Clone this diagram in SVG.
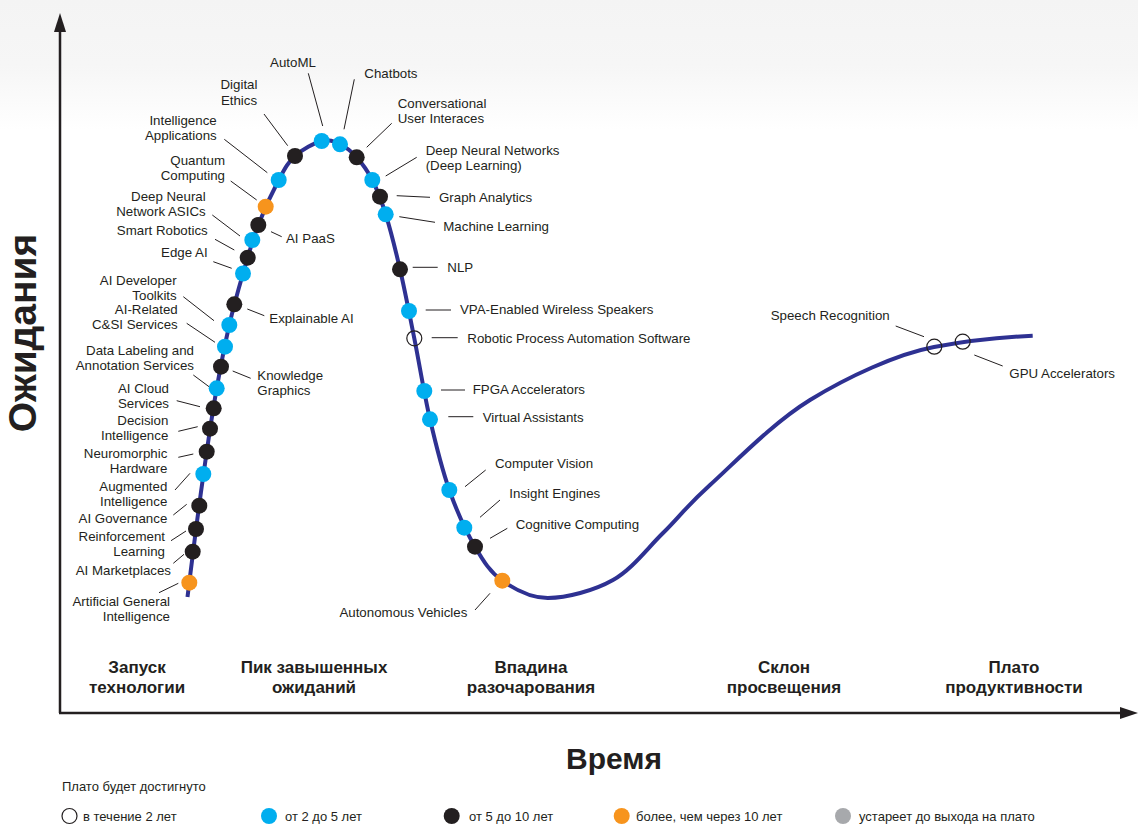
<svg xmlns="http://www.w3.org/2000/svg" width="1138" height="826" viewBox="0 0 1138 826">
<defs>
<linearGradient id="bg" x1="0" y1="0" x2="0" y2="1">
<stop offset="0" stop-color="#f4f4f4"/>
<stop offset="0.5" stop-color="#f6f6f6"/>
<stop offset="1" stop-color="#ffffff"/>
</linearGradient>
<style>
text{font-family:"Liberation Sans",Arial,sans-serif;fill:#231f20}
.lb{font-size:13.3px}
.ph{font-size:17px;font-weight:bold;text-anchor:middle}
.lg{font-size:13px}
.e{text-anchor:end}
.m{text-anchor:middle}
.b{fill:#00aeef}
.k{fill:#231f20}
.o{fill:#f7941d}
.g{fill:#a7a9ac}
.w{fill:none;stroke:#231f20;stroke-width:1.2}
#leaders line{stroke:#231f20;stroke-width:1}
.ax{stroke:#231f20;stroke-width:2.5;fill:none}
</style>
</defs>
<rect width="1138" height="826" fill="#ffffff"/>
<rect width="1138" height="130" fill="url(#bg)"/>
<g id="axes">
<line class="ax" x1="60" y1="713" x2="60" y2="28"/>
<polygon points="60,13 54,32 66,32" fill="#231f20"/>
<line class="ax" x1="59" y1="713" x2="1122" y2="713"/>
<polygon points="1138,713 1120,707 1120,719" fill="#231f20"/>
<text x="36" y="333" transform="rotate(-90 36 333)" style="font-size:39px;font-weight:bold;text-anchor:middle">Ожидания</text>
<text x="614" y="769" style="font-size:30px;font-weight:bold;text-anchor:middle">Время</text>
</g>
<g id="phases">
<text class="ph" x="137" y="673">Запуск<tspan x="137" dy="20">технологии</tspan></text>
<text class="ph" x="314" y="673">Пик завышенных<tspan x="314" dy="20">ожиданий</tspan></text>
<text class="ph" x="531" y="673">Впадина<tspan x="531" dy="20">разочарования</tspan></text>
<text class="ph" x="784" y="673">Склон<tspan x="784" dy="20">просвещения</tspan></text>
<text class="ph" x="1014" y="673">Плато<tspan x="1014" dy="20">продуктивности</tspan></text>
</g>
<g id="curve">
<path d="M187.5,597 C190.33,574.33 192.8,553.22 196,529 C199.2,504.78 203.25,475.15 206.7,451.7 C210.15,428.25 212.93,409.42 216.7,388.3 C220.47,367.18 224.92,344.13 229.3,325 C233.68,305.87 238.17,290.17 243,273.5 C247.83,256.83 252.35,240.58 258.3,225 C264.25,209.42 272.58,191.5 278.7,180 C284.82,168.5 287.83,162.5 295,156 C302.17,149.5 314.2,142.950 321.7,141 C329.2,139.05 334.17,141.58 340,144.3 C345.83,147.02 351.32,151.35 356.7,157.3 C362.08,163.25 367.47,170.5 372.3,180 C377.13,189.5 381.08,199.42 385.7,214.3 C390.32,229.18 395.23,248.63 400,269.3 C404.77,289.97 409.3,313.3 414.3,338.3 C419.3,363.3 424.17,394.02 430,419.3 C435.83,444.58 441.8,468.77 449.3,490 C456.8,511.23 466.17,531.58 475,546.7 C483.83,561.82 490.13,572.15 502.3,580.7 C514.47,589.25 529.55,598.12 548,598 C566.45,597.88 593.83,590.83 613,580 C632.17,569.17 646.83,548.83 663,533 C679.17,517.17 685.5,507.17 710,485 C734.5,462.83 772.67,423 810,400 C847.33,377 897,354 934,347 C971,340 999.7,337.2 1032.7,335.7" fill="none" stroke="#2e3192" stroke-width="4" stroke-linecap="butt"/>
</g>
<g id="leaders">
<line x1="308.3" y1="73.3" x2="322.7" y2="126"/>
<line x1="354.3" y1="79.3" x2="344" y2="129.3"/>
<line x1="264" y1="114" x2="287.7" y2="145.7"/>
<line x1="224.3" y1="139.3" x2="267.3" y2="172.7"/>
<line x1="230.7" y1="181" x2="256.7" y2="200"/>
<line x1="212.3" y1="215" x2="240" y2="236"/>
<line x1="215" y1="239.3" x2="234.3" y2="250"/>
<line x1="213.3" y1="261.7" x2="231.7" y2="268.3"/>
<line x1="271" y1="231.7" x2="281.7" y2="236.7"/>
<line x1="183.3" y1="296.7" x2="214" y2="320.7"/>
<line x1="186.7" y1="323.3" x2="215" y2="342.3"/>
<line x1="247.3" y1="309" x2="264.3" y2="315.7"/>
<line x1="193.3" y1="375" x2="209" y2="386.7"/>
<line x1="232.7" y1="371" x2="250.7" y2="378.3"/>
<line x1="176.7" y1="400.7" x2="200" y2="406.7"/>
<line x1="178.3" y1="431.3" x2="197.7" y2="426.7"/>
<line x1="178.3" y1="457.3" x2="193.3" y2="454"/>
<line x1="175" y1="490" x2="190" y2="473.3"/>
<line x1="173.3" y1="515" x2="186.7" y2="504.3"/>
<line x1="171" y1="540.7" x2="186" y2="531"/>
<line x1="173.3" y1="563.3" x2="184" y2="554.3"/>
<line x1="159" y1="592.7" x2="178.3" y2="583.3"/>
<line x1="391.7" y1="123.3" x2="366.7" y2="147.3"/>
<line x1="416.7" y1="157.3" x2="385.7" y2="176"/>
<line x1="396.7" y1="195.7" x2="430" y2="197.3"/>
<line x1="399.3" y1="216.7" x2="435" y2="222.3"/>
<line x1="412.7" y1="267.3" x2="437.7" y2="267.3"/>
<line x1="425.7" y1="310" x2="451" y2="310"/>
<line x1="431.7" y1="337.7" x2="457.7" y2="337.7"/>
<line x1="441" y1="390" x2="465" y2="390"/>
<line x1="448.3" y1="416.7" x2="473.3" y2="416.7"/>
<line x1="485.7" y1="470" x2="465" y2="486.7"/>
<line x1="500" y1="500" x2="480" y2="517.3"/>
<line x1="507.3" y1="528.3" x2="490" y2="538.3"/>
<line x1="475" y1="610" x2="490" y2="593.3"/>
<line x1="895.7" y1="326" x2="924" y2="336.7"/>
<line x1="974.3" y1="355" x2="1002.7" y2="366"/>
</g>
<g id="n-agi"><circle class="o" cx="189.3" cy="582.7" r="8"/><text class="lb e" x="170" y="606">Artificial General<tspan x="170" dy="15">Intelligence</tspan></text></g>
<g id="n-aimkt"><circle class="k" cx="192.7" cy="551.7" r="8"/><text class="lb e" x="171" y="575">AI Marketplaces</text></g>
<g id="n-rl"><circle class="k" cx="196" cy="529" r="8"/><text class="lb e" x="165" y="540.7">Reinforcement<tspan x="165" dy="15">Learning</tspan></text></g>
<g id="n-aigov"><circle class="k" cx="199.3" cy="505.7" r="8"/><text class="lb e" x="167.3" y="523.3">AI Governance</text></g>
<g id="n-augint"><circle class="b" cx="203.3" cy="474" r="8"/><text class="lb e" x="167.3" y="490.7">Augmented<tspan x="167.3" dy="15">Intelligence</tspan></text></g>
<g id="n-neuro"><circle class="k" cx="206.7" cy="451.7" r="8"/><text class="lb e" x="167.3" y="458.3">Neuromorphic<tspan x="167.3" dy="15">Hardware</tspan></text></g>
<g id="n-decint"><circle class="k" cx="210" cy="428.7" r="8"/><text class="lb e" x="168.3" y="425">Decision<tspan x="168.3" dy="15">Intelligence</tspan></text></g>
<g id="n-aicloud"><circle class="k" cx="213.7" cy="408.3" r="8"/><text class="lb e" x="169" y="392.7">AI Cloud<tspan x="169" dy="15">Services</tspan></text></g>
<g id="n-datalab"><circle class="b" cx="216.7" cy="388.3" r="8"/><text class="lb e" x="194" y="355">Data Labeling and<tspan x="194" dy="15">Annotation Services</tspan></text></g>
<g id="n-kg"><circle class="k" cx="221" cy="366.7" r="8"/><text class="lb" x="257.3" y="380">Knowledge<tspan x="257.3" dy="15">Graphics</tspan></text></g>
<g id="n-csi"><circle class="b" cx="225" cy="346.7" r="8"/><text class="lb e" x="177.7" y="314.3">AI-Related<tspan x="177.7" dy="15">C&amp;SI Services</tspan></text></g>
<g id="n-aidev"><circle class="b" cx="229.3" cy="325" r="8"/><text class="lb e" x="176.7" y="285">AI Developer<tspan x="176.7" dy="15">Toolkits</tspan></text></g>
<g id="n-xai"><circle class="k" cx="234.3" cy="304.3" r="8"/><text class="lb" x="269.3" y="323.3">Explainable AI</text></g>
<g id="n-edge"><circle class="b" cx="243" cy="273.5" r="8"/><text class="lb e" x="207.7" y="256.7">Edge AI</text></g>
<g id="n-robotics"><circle class="k" cx="247.7" cy="257.7" r="8"/><text class="lb e" x="207.7" y="235">Smart Robotics</text></g>
<g id="n-asics"><circle class="b" cx="252.3" cy="240" r="8"/><text class="lb e" x="205.7" y="201">Deep Neural<tspan x="205.7" dy="15">Network ASICs</tspan></text></g>
<g id="n-paas"><circle class="k" cx="258.3" cy="225" r="8"/><text class="lb" x="286" y="242.7">AI PaaS</text></g>
<g id="n-quantum"><circle class="o" cx="265.7" cy="206.7" r="8"/><text class="lb e" x="225" y="165">Quantum<tspan x="225" dy="15">Computing</tspan></text></g>
<g id="n-intapps"><circle class="b" cx="278.7" cy="180" r="8"/><text class="lb e" x="216.7" y="125">Intelligence<tspan x="216.7" dy="15">Applications</tspan></text></g>
<g id="n-ethics"><circle class="k" cx="295" cy="156" r="8"/><text class="lb m" x="239" y="89.3">Digital<tspan x="239" dy="15.3">Ethics</tspan></text></g>
<g id="n-automl"><circle class="b" cx="321.7" cy="141" r="8"/><text class="lb m" x="293" y="67">AutoML</text></g>
<g id="n-chatbots"><circle class="b" cx="340" cy="144.3" r="8"/><text class="lb" x="364.3" y="78.3">Chatbots</text></g>
<g id="n-cui"><circle class="k" cx="356.7" cy="157.3" r="8"/><text class="lb" x="397.7" y="107.7">Conversational<tspan x="397.7" dy="15">User Interaces</tspan></text></g>
<g id="n-dnn"><circle class="b" cx="372.3" cy="180" r="8"/><text class="lb" x="425.7" y="155">Deep Neural Networks<tspan x="425.7" dy="15">(Deep Learning)</tspan></text></g>
<g id="n-graph"><circle class="k" cx="380" cy="196.7" r="8"/><text class="lb" x="439" y="202.3">Graph Analytics</text></g>
<g id="n-ml"><circle class="b" cx="385.7" cy="214.3" r="8"/><text class="lb" x="443.3" y="230.7">Machine Learning</text></g>
<g id="n-nlp"><circle class="k" cx="400" cy="269.3" r="8"/><text class="lb" x="447.3" y="272.3">NLP</text></g>
<g id="n-vpa"><circle class="b" cx="409" cy="311" r="8"/><text class="lb" x="460" y="314.3">VPA-Enabled Wireless Speakers</text></g>
<g id="n-rpa"><circle class="w" cx="414.3" cy="338.3" r="7.5"/><text class="lb" x="467.3" y="342.7">Robotic Process Automation Software</text></g>
<g id="n-fpga"><circle class="b" cx="424.3" cy="391" r="8"/><text class="lb" x="472.7" y="394.3">FPGA Accelerators</text></g>
<g id="n-va"><circle class="b" cx="430" cy="419.3" r="8"/><text class="lb" x="482.7" y="421.7">Virtual Assistants</text></g>
<g id="n-cv"><circle class="b" cx="449.3" cy="490" r="8"/><text class="lb" x="495" y="467.7">Computer Vision</text></g>
<g id="n-insight"><circle class="b" cx="464.3" cy="527.7" r="8"/><text class="lb" x="509.3" y="498.3">Insight Engines</text></g>
<g id="n-cogn"><circle class="k" cx="475" cy="546.7" r="8"/><text class="lb" x="515.7" y="529.3">Cognitive Computing</text></g>
<g id="n-av"><circle class="o" cx="502.3" cy="580.7" r="8"/><text class="lb e" x="467.3" y="617.3">Autonomous Vehicles</text></g>
<g id="n-speech"><circle class="w" cx="934.3" cy="346.7" r="7.5"/><text class="lb" x="770.7" y="320">Speech Recognition</text></g>
<g id="n-gpu"><circle class="w" cx="962.7" cy="341.7" r="7.5"/><text class="lb" x="1009.3" y="378.3">GPU Accelerators</text></g>
<g id="legend">
<text class="lg" x="62" y="791">Плато будет достигнуто</text>
<circle class="w" cx="69.5" cy="816" r="7.5"/><text class="lg" x="83" y="820.5">в течение 2 лет</text>
<circle class="b" cx="269" cy="816" r="8"/><text class="lg" x="285" y="820.5">от 2 до 5 лет</text>
<circle class="k" cx="451.7" cy="816" r="8"/><text class="lg" x="469" y="820.5">от 5 до 10 лет</text>
<circle class="o" cx="621.7" cy="816" r="8"/><text class="lg" x="636" y="820.5">более, чем через 10 лет</text>
<circle class="g" cx="843" cy="816" r="8"/><text class="lg" x="859" y="820.5">устареет до выхода на плато</text>
</g>
</svg>
